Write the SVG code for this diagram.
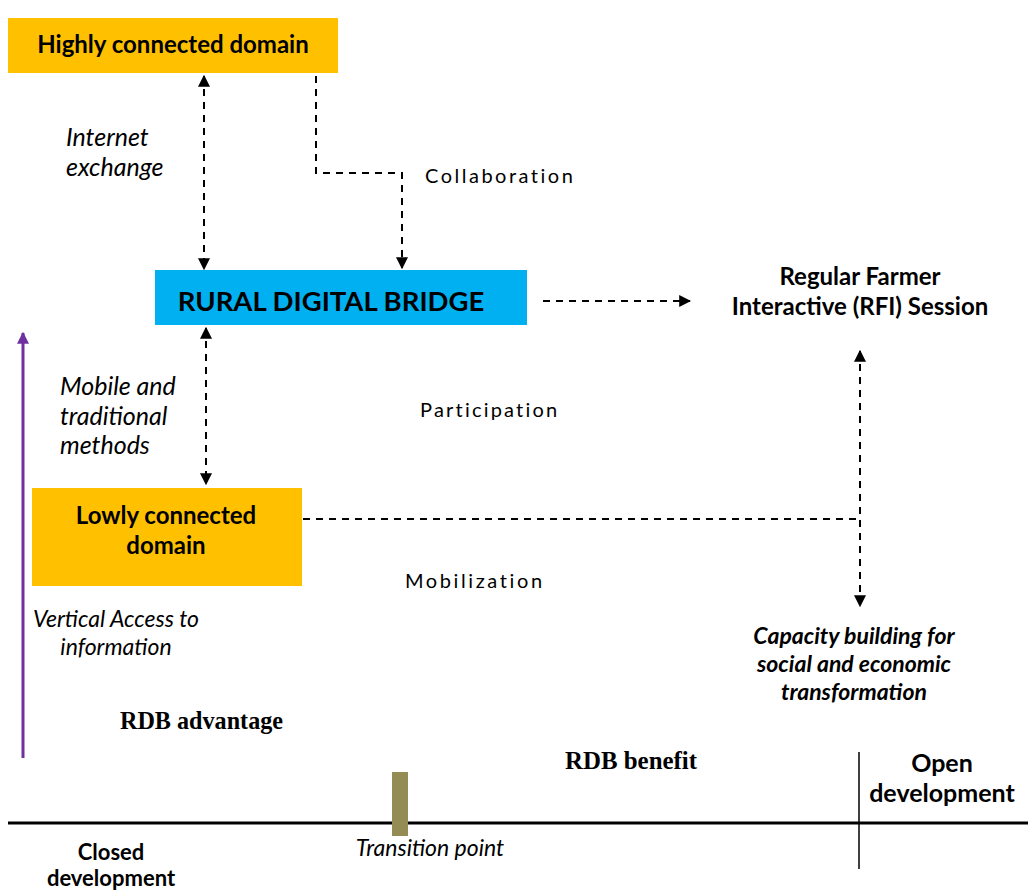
<svg xmlns="http://www.w3.org/2000/svg" width="1028" height="891" viewBox="0 0 1028 891">
<style>
.t{font-family:Lato,"Open Sans",sans-serif;fill:#000}
.b{font-weight:bold}
.i{font-style:italic}
.sp{font-size:20px}
.dash{stroke:#000;stroke-width:2;stroke-dasharray:7,6;fill:none}
.tnr{font-family:"Liberation Serif",serif;font-weight:bold;fill:#000;font-size:25px}
</style>
<defs>
<marker id="ah" viewBox="0 0 10 10" refX="9" refY="5" markerWidth="6" markerHeight="6" orient="auto-start-reverse">
<path d="M0,0 L10,5 L0,10 z" fill="#000"/>
</marker>
<marker id="pa" viewBox="0 0 10 10" refX="9" refY="5" markerWidth="4" markerHeight="4" orient="auto">
<path d="M0,0 L10,5 L0,10 z" fill="#7030A0"/>
</marker>
</defs>
<rect width="1028" height="891" fill="#fff"/>

<g id="highly">
<rect x="8" y="18" width="330" height="55" fill="#FFC000"/>
<text class="t b" x="173" y="53" font-size="24" text-anchor="middle">Highly connected domain</text>
</g>
<g id="rdb">
<rect x="155" y="270" width="372" height="55" fill="#00B0F0"/>
<text class="t b" x="331" y="311" font-size="27.5" text-anchor="middle">RURAL DIGITAL BRIDGE</text>
</g>
<g id="rfi">
<text class="t b" x="860" y="285" font-size="24" text-anchor="middle">Regular Farmer</text>
<text class="t b" x="860" y="315" font-size="24" text-anchor="middle">Interactive (RFI) Session</text>
</g>
<g id="lowly">
<rect x="32" y="488" width="270" height="98" fill="#FFC000"/>
<text class="t b" x="166" y="524" font-size="24" text-anchor="middle">Lowly connected</text>
<text class="t b" x="166" y="554" font-size="24" text-anchor="middle">domain</text>
</g>
<g id="capacity">
<text class="t b i" x="854" y="644" font-size="23" text-anchor="middle">Capacity building for</text>
<text class="t b i" x="854" y="672" font-size="23" text-anchor="middle">social and economic</text>
<text class="t b i" x="854" y="700" font-size="23" text-anchor="middle">transformation</text>
</g>

<g id="connectors">
<line class="dash" x1="204" y1="76" x2="204" y2="269" marker-start="url(#ah)" marker-end="url(#ah)"/>
<polyline class="dash" points="316,76 316,173 402,173 402,268" marker-end="url(#ah)"/>
<line class="dash" x1="543" y1="301" x2="690" y2="301" marker-end="url(#ah)"/>
<line class="dash" x1="206" y1="328" x2="206" y2="484" marker-start="url(#ah)" marker-end="url(#ah)"/>
<line class="dash" x1="860" y1="351" x2="860" y2="606" marker-start="url(#ah)" marker-end="url(#ah)"/>
<line class="dash" x1="303" y1="519" x2="860" y2="519"/>
<line x1="23" y1="758" x2="23" y2="333" stroke="#7030A0" stroke-width="3" marker-end="url(#pa)"/>
</g>

<g id="labels">
<text class="t i" x="66" y="146" font-size="25">Internet</text>
<text class="t i" x="66" y="176" font-size="25">exchange</text>
<text class="t sp" x="425" y="183" letter-spacing="2.5">Collaboration</text>
<text class="t i" x="60" y="395" font-size="25">Mobile and</text>
<text class="t i" x="60" y="425" font-size="25">traditional</text>
<text class="t i" x="60" y="454" font-size="25">methods</text>
<text class="t sp" x="420" y="417" letter-spacing="2.2">Participation</text>
<text class="t sp" x="405" y="588" letter-spacing="2.6">Mobilization</text>
<text class="t i" x="116" y="627" font-size="23" text-anchor="middle">Vertical Access to</text>
<text class="t i" x="116" y="655" font-size="23" text-anchor="middle">information</text>
<text class="tnr" x="120" y="729" textLength="163" lengthAdjust="spacingAndGlyphs">RDB advantage</text>
<text class="tnr" x="565" y="769" textLength="132" lengthAdjust="spacingAndGlyphs">RDB benefit</text>
</g>

<g id="axis">
<line x1="8" y1="823" x2="1028" y2="823" stroke="#000" stroke-width="3"/>
<line x1="859" y1="752" x2="859" y2="869" stroke="#000" stroke-width="1.5"/>
<rect x="392" y="772" width="16" height="64" fill="#958B55"/>
<text class="t b" x="942" y="772" font-size="25" text-anchor="middle">Open</text>
<text class="t b" x="942" y="802" font-size="25" text-anchor="middle">development</text>
<text class="t i" x="430" y="856" font-size="23" text-anchor="middle">Transition point</text>
<text class="t b" x="111" y="860" font-size="22" text-anchor="middle">Closed</text>
<text class="t b" x="111" y="886" font-size="22" text-anchor="middle">development</text>
</g>
</svg>
